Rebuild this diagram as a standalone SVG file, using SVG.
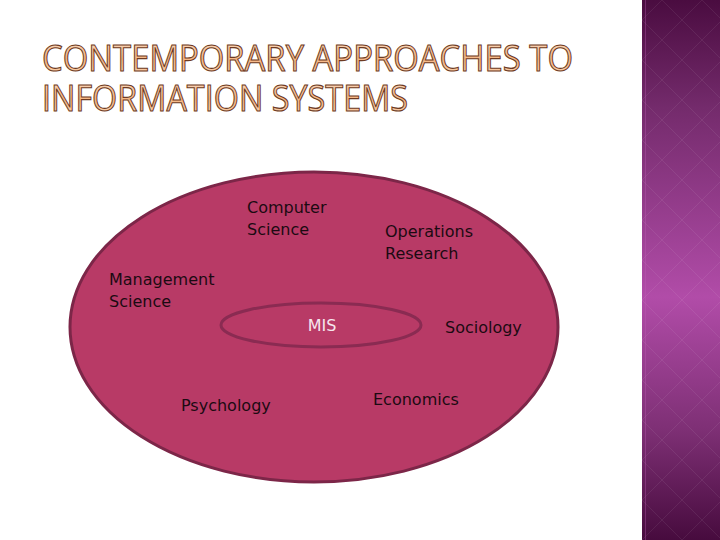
<svg xmlns="http://www.w3.org/2000/svg" width="720" height="540" viewBox="0 0 720 540">
  <defs>
    <linearGradient id="side" x1="0" y1="0" x2="0" y2="1">
      <stop offset="0" stop-color="#4a0c40"/>
      <stop offset="0.2" stop-color="#742b6c"/>
      <stop offset="0.55" stop-color="#b14ca8"/>
      <stop offset="0.8" stop-color="#7d2f74"/>
      <stop offset="1" stop-color="#470b3e"/>
    </linearGradient>
    <pattern id="diam" x="642" y="0" width="40" height="40" patternUnits="userSpaceOnUse">
      <path d="M0 20 L20 0 L40 20 L20 40 Z" fill="none" stroke="#ffffff" stroke-opacity="0.07" stroke-width="1"/>
    </pattern>
    <linearGradient id="titleGrad" x1="0" y1="0" x2="0" y2="1">
      <stop offset="0" stop-color="#fdeadb"/>
      <stop offset="0.55" stop-color="#f5b684"/>
      <stop offset="1" stop-color="#fbdcc0"/>
    </linearGradient>
    <style>
      .title { font-family: "Open Sans", Lato, "Liberation Sans", sans-serif; font-size: 37px; fill: url(#titleGrad); stroke: #6e3a22; stroke-width: 1.1px; }
      .lbl { font-family: "DejaVu Sans", Verdana, sans-serif; font-size: 16px; fill: #1c0a12; }
      .mis { font-family: "DejaVu Sans", Verdana, sans-serif; font-size: 16px; fill: #f6e6ee; }
    </style>
  </defs>

  <rect x="0" y="0" width="720" height="540" fill="#ffffff"/>

  <g id="sidebar">
    <rect x="642" y="0" width="78" height="540" fill="url(#side)"/>
    <rect x="642" y="0" width="78" height="540" fill="url(#diam)"/>
    <line x1="645.5" y1="0" x2="645.5" y2="540" stroke="#c060b8" stroke-opacity="0.35" stroke-width="1"/>
  </g>

  <g id="title">
    <text class="title" x="42" y="71" textLength="531" lengthAdjust="spacingAndGlyphs">CONTEMPORARY APPROACHES TO</text>
    <text class="title" x="42" y="111" textLength="366" lengthAdjust="spacingAndGlyphs">INFORMATION SYSTEMS</text>
  </g>

  <g id="outer-ellipse">
    <ellipse cx="314" cy="327" rx="244" ry="155" fill="#b83a66" stroke="#7c2648" stroke-width="3"/>
  </g>

  <g id="connectors"></g>

  <g id="mis">
    <ellipse cx="321" cy="325" rx="100" ry="22" fill="#b83a66" stroke="#8a2b52" stroke-width="3"/>
    <text class="mis" x="322" y="331" text-anchor="middle">MIS</text>
  </g>

  <g id="computer-science">
    <text class="lbl" x="247" y="213">Computer</text>
    <text class="lbl" x="247" y="235">Science</text>
  </g>
  <g id="operations-research">
    <text class="lbl" x="385" y="237">Operations</text>
    <text class="lbl" x="385" y="259">Research</text>
  </g>
  <g id="management-science">
    <text class="lbl" x="109" y="285">Management</text>
    <text class="lbl" x="109" y="307">Science</text>
  </g>
  <g id="sociology">
    <text class="lbl" x="445" y="333">Sociology</text>
  </g>
  <g id="psychology">
    <text class="lbl" x="181" y="411">Psychology</text>
  </g>
  <g id="economics">
    <text class="lbl" x="373" y="405">Economics</text>
  </g>
</svg>
